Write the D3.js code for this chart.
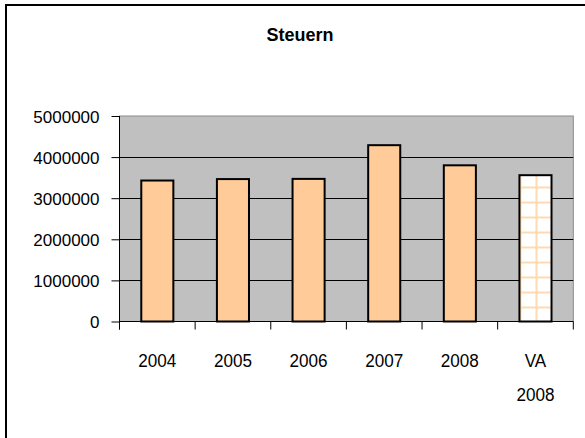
<!DOCTYPE html>
<html><head><meta charset="utf-8">
<script src="https://cdn.jsdelivr.net/npm/d3@7"></script>
<style>body{margin:0;background:#fff}svg{display:block}text{font-family:"Liberation Sans",Arial,sans-serif}</style>
</head><body>
<script>
const categories = ["2004","2005","2006","2007","2008","VA 2008"];
const values = [3430000, 3465000, 3470000, 4290000, 3800000, 3560000];
const patterned = [false,false,false,false,false,true];
const yTicks = [0,1000000,2000000,3000000,4000000,5000000];
const title = "Steuern";

const W=585,H=438;
const svg=d3.select("body").append("svg").attr("width",W).attr("height",H);
// outer frame
svg.append("rect").attr("x",6).attr("y",5).attr("width",700).attr("height",700)
  .attr("fill","none").attr("stroke","#000").attr("stroke-width",2);

const L=119.5,R=573.3,T=116,B=321.5;
const x=d3.scaleBand().domain(categories).range([L,R]).paddingInner(0.576).paddingOuter(0.288);
const y=d3.scaleLinear().domain([0,5000000]).range([B,T]);

// pattern
const defs=svg.append("defs");
const bwid=x.bandwidth();
const pat=defs.append("pattern").attr("id","grid").attr("patternUnits","userSpaceOnUse")
  .attr("x",x("VA 2008")).attr("y",B).attr("width",bwid/2).attr("height",15);
pat.append("rect").attr("width",bwid/2).attr("height",15).attr("fill","#fff");
pat.append("rect").attr("width",2).attr("height",15).attr("fill","#ffd9b3");
pat.append("rect").attr("width",bwid/2).attr("height",2).attr("fill","#ffd9b3");

// plot area
svg.append("rect").attr("x",L).attr("y",T).attr("width",R-L).attr("height",B-T)
  .attr("fill","#c0c0c0").attr("stroke","#8a8a8a").attr("stroke-width",1);
// gridlines
svg.append("g").selectAll("line").data(yTicks.filter(d=>d>0&&d<5000000)).join("line")
  .attr("x1",L).attr("x2",R).attr("y1",d=>Math.round(y(d))+0.5).attr("y2",d=>Math.round(y(d))+0.5)
  .attr("stroke","#000").attr("stroke-width",1);

// bars
svg.append("g").selectAll("rect").data(categories).join("rect")
  .attr("x",d=>x(d)).attr("width",bwid)
  .attr("y",(d,i)=>y(values[i])).attr("height",(d,i)=>B-y(values[i]))
  .attr("fill",(d,i)=>patterned[i]?"url(#grid)":"#ffcc99")
  .attr("stroke","#000").attr("stroke-width",2);

// y axis
const yAxis=d3.axisLeft(y).tickValues(yTicks).tickSize(8).tickPadding(12).tickFormat(d3.format("d"));
const gy=svg.append("g").attr("transform",`translate(${L},0)`).call(yAxis);
gy.select(".domain").remove();
gy.selectAll(".tick line").attr("stroke","#000");
gy.selectAll("text").attr("font-size",17).attr("fill","#000").attr("dy","0.36em");
svg.append("line").attr("x1",L).attr("x2",L).attr("y1",T).attr("y2",B+8).attr("stroke","#000").attr("stroke-width",1);

// x axis
svg.append("line").attr("x1",L).attr("x2",R).attr("y1",B).attr("y2",B).attr("stroke","#000").attr("stroke-width",1.2);
const step=x.step();
const bounds=d3.range(categories.length+1).map(i=>L+i*step);
svg.append("g").selectAll("line").data(bounds).join("line")
  .attr("x1",d=>d).attr("x2",d=>d).attr("y1",B).attr("y2",B+8).attr("stroke","#000");
svg.append("g").selectAll("text").data(categories).join("text")
  .attr("transform",d=>`translate(${x(d)+bwid/2},367) scale(0.9,1)`)
  .attr("text-anchor","middle").attr("font-size",19).attr("fill","#000")
  .each(function(d){
    const t=d3.select(this);
    d.split(" ").forEach((p,i)=>t.append("tspan").attr("x",0).attr("dy",i?34:0).text(p));
  });

// title
svg.append("text").attr("x",300).attr("y",41).attr("text-anchor","middle")
  .attr("font-size",18).attr("font-weight","bold").attr("fill","#000").text(title);
</script>
</body></html>
